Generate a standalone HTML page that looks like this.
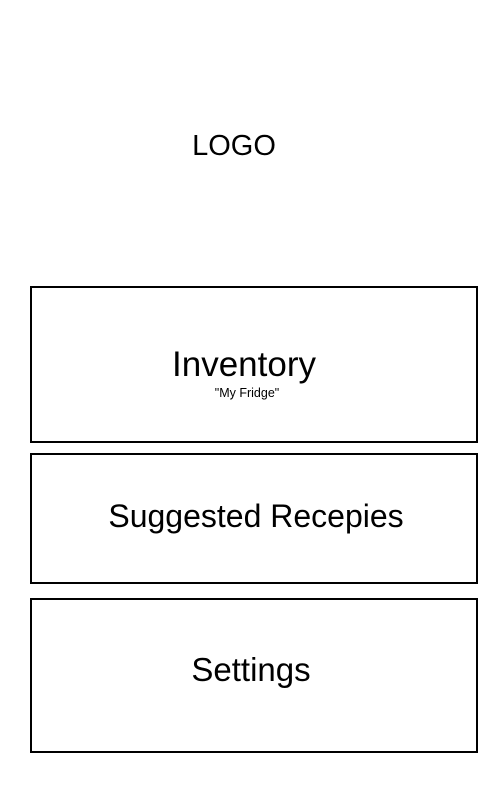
<!DOCTYPE html>
<html><head><style>
body{margin:0;width:500px;height:800px;background:#fff;position:relative;overflow:hidden;font-family:"Liberation Sans",sans-serif;color:#000}
.b{position:absolute;left:30px;width:444px;border:2px solid #000;box-sizing:content-box}
.t{position:absolute;left:0;width:500px;text-align:center;line-height:1;white-space:nowrap}
</style></head><body>
<div class="b" style="top:286px;height:153px"></div>
<div class="b" style="top:453px;height:127px"></div>
<div class="b" style="top:598px;height:151px"></div>
<div class="t" style="top:132px;font-size:29px;left:-16px">LOGO</div>
<div class="t" style="top:347px;font-size:35px;left:-6px">Inventory</div>
<div class="t" style="top:387px;font-size:12.5px;left:-3px">"My Fridge"</div>
<div class="t" style="top:500px;font-size:32px;left:6px">Suggested Recepies</div>
<div class="t" style="top:653px;font-size:33px;left:1px">Settings</div>
</body></html>
